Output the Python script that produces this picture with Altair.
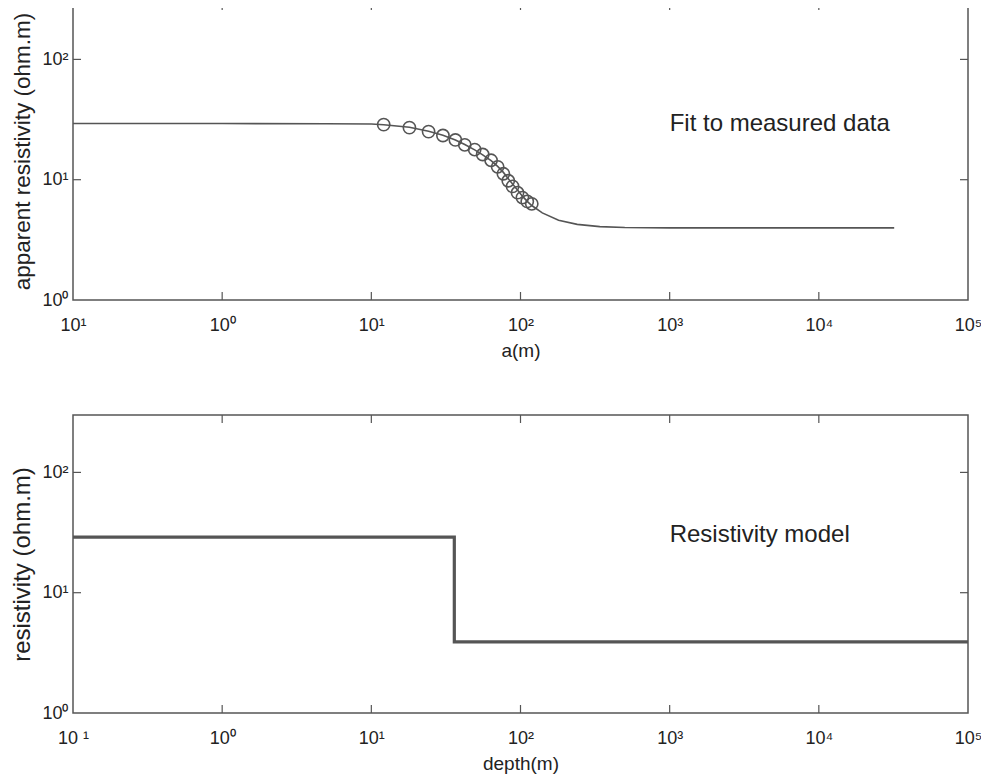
import altair as alt
import pandas as pd

# ---------------- data ----------------
# fitted apparent-resistivity curve (top panel)
curve_a = [0.1, 1, 5, 10, 12.1, 18.0, 24.2, 30.2, 36.6, 42.3, 49.3, 55.8, 63.5, 70.3,
           76.8, 82.8, 88.5, 95.5, 103, 111, 119, 140, 180, 240, 340, 500, 1000, 32000]
curve_rho = [29.3, 29.3, 29.2, 29.0, 28.6, 27.3, 25.3, 23.4, 21.4, 19.6, 17.7, 16.1, 14.4, 12.9,
             11.5, 10.2, 9.2, 8.2, 7.3, 6.6, 6.1, 5.3, 4.6, 4.25, 4.07, 4.0, 3.98, 3.98]

# measured data (circles)
meas_a = [12.1, 18.0, 24.2, 30.2, 36.6, 42.3, 49.3, 55.8, 63.5, 70.3, 76.8, 82.8,
          88.5, 95.5, 103, 111, 119]
meas_rho = [28.7, 27.1, 25.1, 23.3, 21.4, 19.5, 17.8, 16.2, 14.5, 12.8, 11.2, 9.8,
            8.8, 7.8, 7.1, 6.6, 6.3]

# layered resistivity model (bottom panel)
model_depth = [0.1, 36, 36, 100000]
model_rho = [29, 29, 3.9, 3.9]

x_ticks = [0.1, 1, 10, 100, 1000, 10000, 100000]
y_ticks = [1, 10, 100]
x_inner_ticks = [1, 10, 100, 1000, 10000]
y_inner_ticks = [10, 100]

top_x_labels = ["10\u00b9", "10\u2070", "10\u00b9", "10\u00b2", "10\u00b3", "10\u2074", "10\u2075"]
bot_x_labels = ["10 \u00b9", "10\u2070", "10\u00b9", "10\u00b2", "10\u00b3", "10\u2074", "10\u2075"]
y_labels = ["10\u2070", "10\u00b9", "10\u00b2"]

top_title_x = "a(m)"
top_title_y = "apparent resistivity (ohm.m)"
bot_title_x = "depth(m)"
bot_title_y = "resistivity (ohm.m)"
top_note = "Fit to measured data"
bot_note = "Resistivity model"
note_x = [1000, 1000]
note_y = [25.6, 26.3]

# ---------------- styling ----------------
W, H = 895, 298
LINE = "#555555"
TXT = "#222222"
FONT = "Liberation Sans"
TL = 8  # inner tick length


def label_expr(values, labels):
    expr = "''"
    for v, l in reversed(list(zip(values, labels))):
        expr = f"abs(datum.value - {v}) < {v}*1e-6 ? '{l}' : ({expr})"
    return expr


xdom = [0.1, 100000]
ydom = [1, 300]


def panel(line_df, line_width, x_title, y_title, y_title_size, x_labels, note_df,
          extra_layers=()):
    xs = alt.Scale(type="log", domain=xdom, nice=False)
    ys = alt.Scale(type="log", domain=ydom, nice=False)
    xaxis = alt.Axis(values=x_ticks, labelExpr=label_expr(x_ticks, x_labels), grid=False,
                     ticks=False, domain=False, labelFontSize=18, labelColor=TXT,
                     labelFont=FONT, labelPadding=16, title=x_title, titleFont=FONT,
                     titleFontSize=19, titleFontWeight="normal", titleColor=TXT,
                     titlePadding=7, labelFlush=False, labelOverlap=False)
    yaxis = alt.Axis(values=y_ticks, labelExpr=label_expr(y_ticks, y_labels), grid=False,
                     ticks=False, domain=False, labelFontSize=18, labelColor=TXT,
                     labelFont=FONT, labelPadding=5, title=y_title, titleFont=FONT,
                     titleFontSize=y_title_size, titleFontWeight="normal", titleColor=TXT,
                     titlePadding=7, labelFlush=False, labelOverlap=False,
                     labelBaseline="middle")
    base_line = alt.Chart(line_df).mark_line(color=LINE, strokeWidth=line_width).encode(
        x=alt.X("x:Q", scale=xs, axis=xaxis),
        y=alt.Y("y:Q", scale=ys, axis=yaxis),
        order="o:Q",
    )
    xt = pd.DataFrame({"x": x_inner_ticks})
    yt = pd.DataFrame({"y": y_inner_ticks})
    tb = alt.Chart(xt).mark_rule(color=LINE, strokeWidth=1.2).encode(
        x=alt.X("x:Q", scale=xs), y=alt.value(H), y2=alt.value(H - TL))
    tt = alt.Chart(xt).mark_rule(color=LINE, strokeWidth=1.2).encode(
        x=alt.X("x:Q", scale=xs), y=alt.value(0), y2=alt.value(TL))
    tl = alt.Chart(yt).mark_rule(color=LINE, strokeWidth=1.2).encode(
        y=alt.Y("y:Q", scale=ys), x=alt.value(0), x2=alt.value(TL))
    tr = alt.Chart(yt).mark_rule(color=LINE, strokeWidth=1.2).encode(
        y=alt.Y("y:Q", scale=ys), x=alt.value(W), x2=alt.value(W - TL))
    nt = alt.Chart(note_df).mark_text(
        align="left", baseline="alphabetic", font=FONT, fontSize=24, color=TXT).encode(
        x=alt.X("x:Q", scale=xs), y=alt.Y("y:Q", scale=ys), text="t:N")
    layers = [base_line, *extra_layers, tb, tt, tl, tr, nt]
    return alt.layer(*layers).properties(width=W, height=H)


top_line = pd.DataFrame({"x": curve_a, "y": curve_rho, "o": list(range(len(curve_a)))})
meas_df = pd.DataFrame({"x": meas_a, "y": meas_rho})
circles = alt.Chart(meas_df).mark_point(shape="circle", size=150, filled=False,
                                        color=LINE, strokeWidth=1.6, opacity=1).encode(
    x=alt.X("x:Q", scale=alt.Scale(type="log", domain=xdom, nice=False)),
    y=alt.Y("y:Q", scale=alt.Scale(type="log", domain=ydom, nice=False)),
)

top = panel(top_line, 1.6, top_title_x, top_title_y, 22.5, top_x_labels,
            pd.DataFrame({"x": [note_x[0]], "y": [note_y[0]], "t": [top_note]}),
            extra_layers=(circles,))

bot_line = pd.DataFrame({"x": model_depth, "y": model_rho, "o": list(range(len(model_depth)))})
bot = panel(bot_line, 3.2, bot_title_x, bot_title_y, 24, bot_x_labels,
            pd.DataFrame({"x": [note_x[1]], "y": [note_y[1]], "t": [bot_note]}))

chart = alt.vconcat(top, bot, spacing=52).properties(
    padding={"left": 2, "top": -8, "right": -2, "bottom": 0},
    background="white",
).configure_view(stroke=LINE, strokeWidth=1.5).configure_concat(spacing=52)

chart.save("out.html", embed_options={"renderer": "svg", "actions": False})
